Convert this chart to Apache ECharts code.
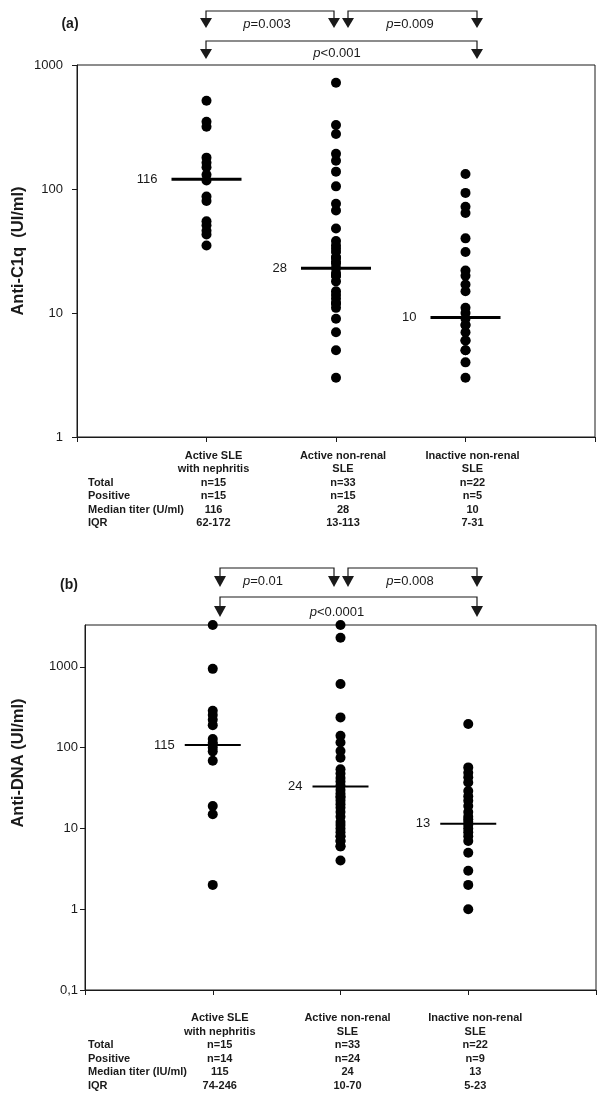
<!DOCTYPE html>
<html><head><meta charset="utf-8">
<script src="https://cdn.jsdelivr.net/npm/echarts@6/dist/echarts.min.js"></script>
<style>html,body{margin:0;padding:0;background:#fff}#c{width:600px;height:1095px}</style>
</head><body><div id="c"></div>
<script>
// ---------- DATA ----------
const groupLines = [['Active SLE', 'with nephritis'], ['Active non-renal', 'SLE'], ['Inactive non-renal', 'SLE']];

// Panel (a) Anti-C1q (UI/ml)
const c1qNephritis = [515, 349, 318, 179, 163, 150, 130, 117, 87, 80, 55, 51, 46, 43, 35];
const c1qActiveNonRenal = [720, 328, 278, 192, 169, 138, 105, 76, 67, 48, 38, 35, 33, 31, 28, 28, 26, 25, 23, 21, 20, 20, 18, 15, 14, 13, 12, 12, 11, 9, 7, 5, 3];
const c1qInactive = [132, 93, 72, 64, 40, 31, 22, 20, 17, 15, 11, 10, 9, 8, 8, 7, 6, 6, 5, 5, 4, 3];
const c1qMedianLine = [120, 23, 9.2];
const c1qMedianLabel = ['116', '28', '10'];
const c1qTicks = [1, 10, 100, 1000];

// Panel (b) Anti-DNA (UI/ml)
const dnaNephritis = [3300, 945, 287, 253, 222, 190, 128, 115, 110, 100, 90, 69, 19, 15, 2];
const dnaActiveNonRenal = [3300, 2300, 615, 237, 140, 116, 91, 75, 54, 48, 42, 38, 34, 30, 27, 25, 24, 22, 20, 18, 16, 14, 12, 11, 10, 9, 8, 8, 7, 7, 6, 6, 4];
const dnaInactive = [196, 57, 49, 43, 37, 29, 25, 22, 19, 16, 14, 13, 12, 11, 10, 9, 8, 7, 5, 3, 2, 1];
const dnaMedianLine = [108, 33, 11.4];
const dnaMedianLabel = ['115', '24', '13'];
const dnaTicks = [0.1, 1, 10, 100, 1000];

// Tables
const rowLabelsA = ['Total', 'Positive', 'Median titer (U/ml)', 'IQR'];
const totalA = ['n=15', 'n=33', 'n=22'];
const positiveA = ['n=15', 'n=15', 'n=5'];
const medianA = ['116', '28', '10'];
const iqrA = ['62-172', '13-113', '7-31'];
const rowLabelsB = ['Total', 'Positive', 'Median titer (IU/ml)', 'IQR'];
const totalB = ['n=15', 'n=33', 'n=22'];
const positiveB = ['n=14', 'n=24', 'n=9'];
const medianB = ['115', '24', '13'];
const iqrB = ['74-246', '10-70', '5-23'];

// p-values
const pA = ['=0.003', '=0.009', '<0.001'];
const pB = ['=0.01', '=0.008', '<0.0001'];

// ---------- CHART ----------
const FONT = '"Liberation Sans", Arial, sans-serif';
const INK = '#1a1a1a';
const chart = echarts.init(document.getElementById('c'));

function isPow10(v) { const l = Math.log10(v); return Math.abs(l - Math.round(l)) < 1e-6; }
function yAxisCfg(gi, min, max, margin, ticks) {
  return {
    gridIndex: gi, type: 'log', logBase: 10, min: min, max: max,
    axisLine: { show: true, lineStyle: { color: INK, width: 1 } },
    axisTick: { show: true, length: 5, inside: false, lineStyle: { color: INK }, customValues: ticks },
    minorTick: { show: false }, splitLine: { show: false },
    axisLabel: {
      margin: margin, fontSize: 13, color: INK, fontFamily: FONT, customValues: ticks,
      formatter: v => isPow10(v) ? (v < 1 ? '0,1' : String(Math.round(v))) : ''
    }
  };
}
function xAxisCfg(gi) {
  return {
    gridIndex: gi, type: 'value', min: 0, max: 4, interval: 1,
    axisLine: { show: true, onZero: false, lineStyle: { color: INK, width: 1 } },
    axisTick: { show: true, length: 5, inside: false, lineStyle: { color: INK } },
    axisLabel: { show: false }, splitLine: { show: false }
  };
}
function dots(gi, x, arr) {
  return { type: 'scatter', xAxisIndex: gi, yAxisIndex: gi, symbol: 'circle', symbolSize: 10,
    itemStyle: { color: '#000', opacity: 1 }, data: arr.map(v => [x, v]), z: 2, silent: true };
}
function medians(gi, lines, labels, w, h, dist) {
  return { type: 'scatter', xAxisIndex: gi, yAxisIndex: gi, symbol: 'rect', symbolSize: [w, h],
    itemStyle: { color: '#000', opacity: 1 }, z: 3, silent: true,
    label: { show: true, position: 'left', distance: dist, fontSize: 13, color: INK, fontFamily: FONT },
    data: lines.map((v, i) => ({ value: [i + 1, v], label: { formatter: labels[i] } })) };
}

chart.setOption({
  animation: false,
  grid: [
    { left: 77, right: 5, top: 65, height: 372, show: true, borderColor: INK, borderWidth: 1 },
    { left: 85, right: 4, top: 625, height: 365, show: true, borderColor: INK, borderWidth: 1 }
  ],
  xAxis: [xAxisCfg(0), xAxisCfg(1)],
  yAxis: [yAxisCfg(0, 1, 1000, 14, c1qTicks), yAxisCfg(1, 0.1, 3300, 7, dnaTicks)],
  series: [
    dots(0, 1, c1qNephritis), dots(0, 2, c1qActiveNonRenal), dots(0, 3, c1qInactive),
    medians(0, c1qMedianLine, c1qMedianLabel, 70, 3, 14),
    dots(1, 1, dnaNephritis), dots(1, 2, dnaActiveNonRenal), dots(1, 3, dnaInactive),
    medians(1, dnaMedianLine, dnaMedianLabel, 56, 2, 10)
  ]
});

// ---------- ANNOTATIONS ----------
const g = [];
function txt(x, y, text, opt) {
  g.push({ type: 'text', x: x, y: y, silent: true, rotation: (opt && opt.rot) || 0,
    style: Object.assign({ text: text, fill: INK, fontFamily: FONT, fontSize: 13, align: 'center', verticalAlign: 'middle' }, opt && opt.style) });
}
function ptxt(x, y, rest) {
  g.push({ type: 'text', x: x, y: y, silent: true,
    style: { text: '{i|p}' + rest, fill: INK, fontFamily: FONT, fontSize: 13, align: 'center', verticalAlign: 'middle',
      rich: { i: { fontStyle: 'italic', fontFamily: FONT, fontSize: 13, fill: INK } } } });
}
function arrow(x, yTop, yTip) {
  g.push({ type: 'polygon', silent: true, shape: { points: [[x - 6, yTop], [x + 6, yTop], [x, yTip]] }, style: { fill: INK } });
}
function bracket(x1, x2, yLine, yTop, yTip) {
  g.push({ type: 'polyline', silent: true, shape: { points: [[x1, yTop], [x1, yLine], [x2, yLine], [x2, yTop]] },
    style: { stroke: INK, lineWidth: 1.2, fill: null } });
  arrow(x1, yTop, yTip); arrow(x2, yTop, yTip);
}
// panel (a)
txt(70, 24, '(a)', { style: { fontWeight: 'bold', fontSize: 14 } });
bracket(206, 334, 11, 18, 28); bracket(348, 477, 11, 18, 28); bracket(206, 477, 41, 49, 59);
ptxt(267, 24, pA[0]); ptxt(410, 24, pA[1]); ptxt(337, 53, pA[2]);
txt(18, 251, 'Anti-C1q  (UI/ml)', { rot: Math.PI / 2, style: { fontWeight: 'bold', fontSize: 16.5 } });
// panel (b)
txt(69, 585, '(b)', { style: { fontWeight: 'bold', fontSize: 14 } });
bracket(220, 334, 568, 576, 587); bracket(348, 477, 568, 576, 587); bracket(220, 477, 597, 606, 617);
ptxt(263, 581, pB[0]); ptxt(410, 581, pB[1]); ptxt(337, 612, pB[2]);
txt(18, 763, 'Anti-DNA (UI/ml)', { rot: Math.PI / 2, style: { fontWeight: 'bold', fontSize: 16.5 } });

// tables
function table(gi, y0, step, rowLabels, cols) {
  const bold = { fontWeight: 'bold', fontSize: 11 };
  const xs = [1, 2, 3].map(v => chart.convertToPixel({ xAxisIndex: gi }, v) + 7);
  groupLines.forEach((ls, i) => { txt(xs[i], y0, ls[0], { style: bold }); txt(xs[i], y0 + step, ls[1], { style: bold }); });
  rowLabels.forEach((r, k) => {
    const y = y0 + step * (k + 2);
    txt(88, y, r, { style: Object.assign({ align: 'left' }, bold) });
    cols[k].forEach((c, i) => txt(xs[i], y, c, { style: bold }));
  });
}
table(0, 456, 13.4, rowLabelsA, [totalA, positiveA, medianA, iqrA]);
table(1, 1018, 13.5, rowLabelsB, [totalB, positiveB, medianB, iqrB]);

chart.setOption({ graphic: g });
</script></body></html>
